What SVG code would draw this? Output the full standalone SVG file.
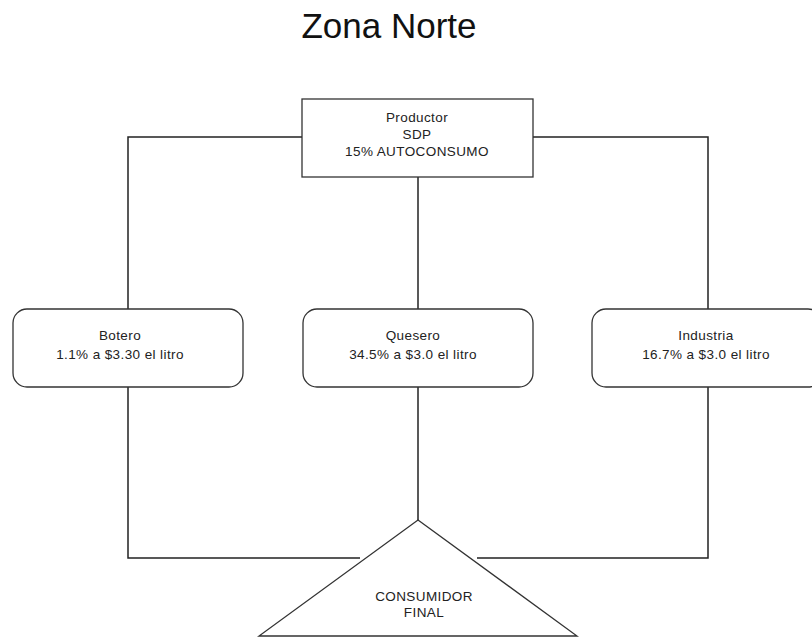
<svg xmlns="http://www.w3.org/2000/svg" width="812" height="637" viewBox="0 0 812 637">
<style>
.box{fill:#fff;stroke:#333;stroke-width:1.3}
.ln{fill:none;stroke:#222;stroke-width:1.5}
.t{font-family:"Liberation Sans",Arial,sans-serif;font-size:13.5px;letter-spacing:0.4px;fill:#222;text-anchor:middle}
.title{font-family:"Liberation Sans",Arial,sans-serif;font-size:35px;fill:#111;text-anchor:middle}
</style>
<rect width="812" height="637" fill="#fff"/>
<text class="title" x="389" y="38">Zona Norte</text>
<g id="connectors">
<polyline class="ln" points="302,137 128,137 128,309"/>
<polyline class="ln" points="533,137 708,137 708,309"/>
<line class="ln" x1="418" y1="177" x2="418" y2="309"/>
<polyline class="ln" points="128,387 128,558 360,558"/>
<line class="ln" x1="418" y1="387" x2="418" y2="520"/>
<polyline class="ln" points="708,387 708,558 477,558"/>
</g>
<g id="productor">
<rect class="box" x="302" y="99" width="231" height="78"/>
<text class="t" x="417" y="122">Productor</text>
<text class="t" x="417" y="139">SDP</text>
<text class="t" x="417" y="156">15% AUTOCONSUMO</text>
</g>
<g id="botero">
<rect class="box" x="13" y="309" width="230" height="78" rx="14"/>
<text class="t" x="120" y="340">Botero</text>
<text class="t" x="120" y="359">1.1% a $3.30 el litro</text>
</g>
<g id="quesero">
<rect class="box" x="303" y="309" width="230" height="78" rx="14"/>
<text class="t" x="413" y="340">Quesero</text>
<text class="t" x="413" y="359">34.5% a $3.0 el litro</text>
</g>
<g id="industria">
<rect class="box" x="592" y="309" width="230" height="78" rx="14"/>
<text class="t" x="706" y="340">Industria</text>
<text class="t" x="706" y="359">16.7% a $3.0 el litro</text>
</g>
<g id="consumidor">
<polygon class="box" points="418,520 577,636 259,636"/>
<text class="t" x="424" y="601">CONSUMIDOR</text>
<text class="t" x="424" y="617">FINAL</text>
</g>
</svg>
